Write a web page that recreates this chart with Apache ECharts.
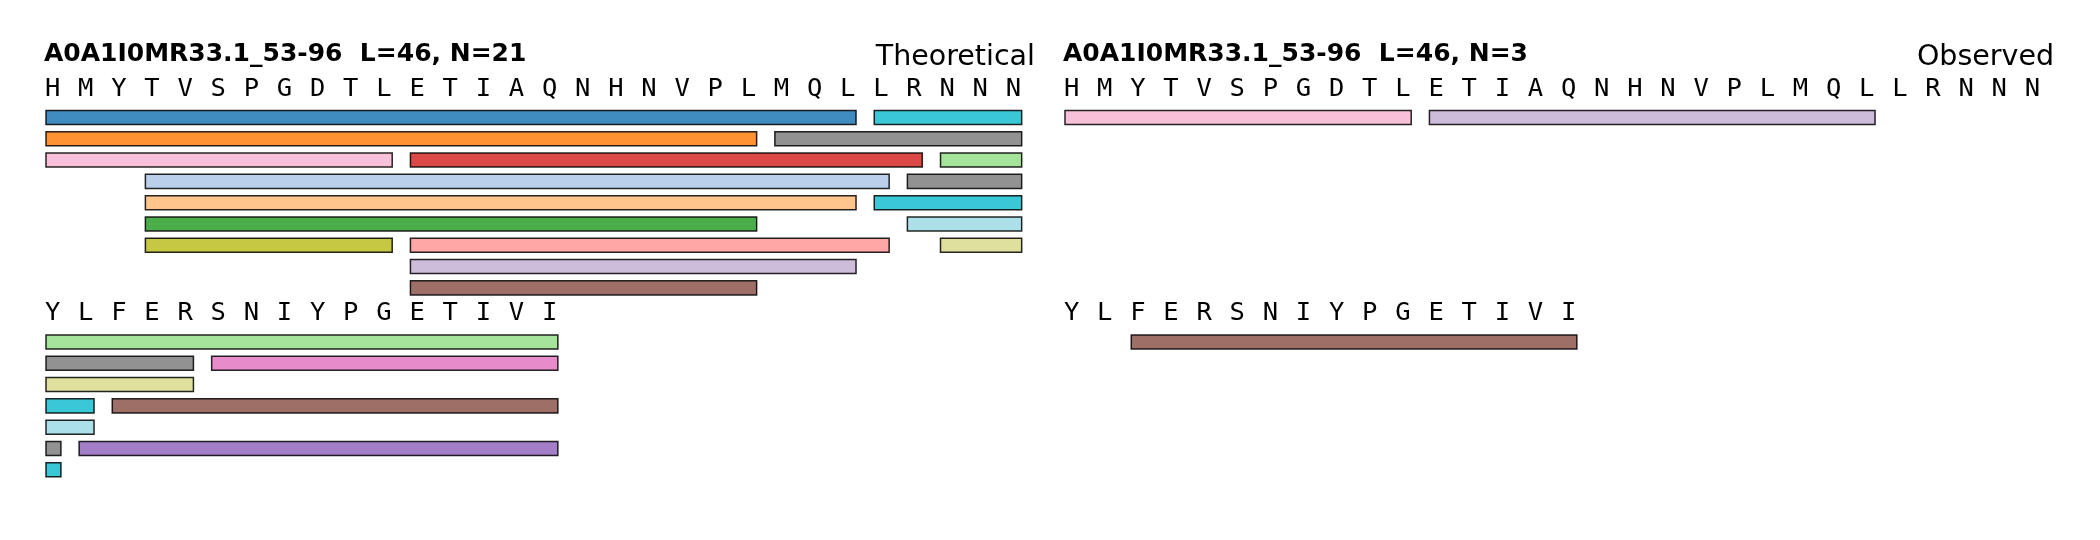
<!DOCTYPE html>
<html><head><meta charset="utf-8">
<script src="https://cdn.jsdelivr.net/npm/echarts@6/dist/echarts.min.js"></script>
<style>html,body{margin:0;padding:0;background:#fff}#c{width:2100px;height:540px}</style>
</head><body><div id="c"></div>
<script>
// ---------------- data ----------------
const proteinId = 'A0A1I0MR33.1_53-96';
const sequence = 'HMYTVSPGDTLETIAQNHNVPLMQLLRNNNYLFERSNIYPGETIVI';
const lineLength = 30;
const panelNames = ['Theoretical', 'Observed'];
// peptides: 1-based start/end on the full sequence, colour = palette index
const theoreticalStarts = [1, 1, 1, 4, 4, 4, 4, 12, 12, 12, 12, 23, 26, 26, 27, 27, 28, 28, 32, 33, 36];
const theoreticalEnds   = [25, 22, 11, 26, 25, 22, 11, 27, 26, 25, 22, 31, 32, 31, 35, 32, 46, 35, 46, 46, 46];
const theoreticalColors = [0, 2, 13, 1, 3, 4, 16, 6, 7, 9, 10, 14, 18, 18, 14, 19, 5, 17, 8, 10, 12];
const observedStarts = [1, 12, 33];
const observedEnds   = [11, 25, 46];
const observedColors = [13, 9, 10];
const palette = ['#1f77b4','#aec7e8','#ff7f0e','#ffbb78','#2ca02c','#98df8a','#d62728','#ff9896',
  '#9467bd','#c5b0d5','#8c564b','#c49c94','#e377c2','#f7b6d2','#7f7f7f','#c7c7c7','#bcbd22','#dbdb8d','#17becf','#9edae5'];

// ---------------- layout helpers ----------------
const L = sequence.length;
const nLines = Math.ceil(L / lineLength);
const FIRST_TRACK = 1.4;   // row units from letter row to first track
const LINE_EXTRA = 0.14;
const BAR_H = 0.66;
const BAR_END = 0.45;
const LETTER_DX = 0.2;
const LETTER_DY = 0.08;

function hexA(h, a) {
  const r = parseInt(h.slice(1,3),16), g = parseInt(h.slice(3,5),16), b = parseInt(h.slice(5,7),16);
  return 'rgba(' + r + ',' + g + ',' + b + ',' + a + ')';
}

// split peptides per line and pack into tracks (first fit)
function pack(starts, ends, colors) {
  const perLine = [];
  for (let li = 0; li < nLines; li++) {
    const lo = li * lineLength + 1, hi = Math.min(L, (li + 1) * lineLength);
    const segs = [];
    starts.forEach((s, i) => {
      const e = ends[i];
      if (e < lo || s > hi) return;
      segs.push({ ls: Math.max(s, lo), le: Math.min(e, hi), gs: s, ge: e, c: colors[i], lo: lo });
    });
    segs.sort((a, b) => a.ls - b.ls || b.le - a.le || a.gs - b.gs || b.ge - a.ge);
    const trackEnds = [];
    segs.forEach(sg => {
      let t = trackEnds.findIndex(te => te < sg.ls);
      if (t < 0) { t = trackEnds.length; trackEnds.push(0); }
      trackEnds[t] = sg.le;
      sg.track = t;
    });
    perLine.push({ segs: segs, nTracks: trackEnds.length });
  }
  return perLine;
}
const packs = [pack(theoreticalStarts, theoreticalEnds, theoreticalColors),
               pack(observedStarts, observedEnds, observedColors)];
// line vertical offsets in row units (shared, based on theoretical)
const lineY = [];
let yAcc = 0.5;
for (let li = 0; li < nLines; li++) {
  lineY.push(yAcc);
  yAcc += packs[0][li].nTracks + FIRST_TRACK + LINE_EXTRA;
}

const ROW_PX = 21.3, UNIT_PX = 33.13, GRID_TOP = 77;
const gridLefts = [46, 1065];
const yMax = 20;

const grids = [], xAxes = [], yAxes = [], series = [];
packs.forEach((pk, p) => {
  grids.push({ left: gridLefts[p], top: GRID_TOP, width: UNIT_PX * lineLength, height: ROW_PX * yMax });
  xAxes.push({ gridIndex: p, type: 'value', min: 0, max: lineLength, show: false });
  yAxes.push({ gridIndex: p, type: 'value', min: 0, max: yMax, inverse: true, show: false });
  // letters
  const letterData = [], letterChars = [];
  for (let i = 0; i < L; i++) {
    const li = Math.floor(i / lineLength);
    letterData.push([i % lineLength + LETTER_DX, lineY[li] + LETTER_DY]);
    letterChars.push(sequence[i]);
  }
  series.push({
    type: 'custom', xAxisIndex: p, yAxisIndex: p, silent: true, data: letterData,
    renderItem: function (params, api) {
      const pt = api.coord([api.value(0), api.value(1)]);
      return { type: 'text', x: pt[0], y: pt[1],
        style: { text: letterChars[params.dataIndex], font: '25.5px "DejaVu Sans Mono"', fill: '#000',
                 align: 'center', verticalAlign: 'middle' } };
    }
  });
  // bars
  const barData = [];
  pk.forEach((line, li) => {
    line.segs.forEach(sg => {
      barData.push([sg.ls - sg.lo, sg.le - sg.lo + BAR_END, lineY[li] + FIRST_TRACK + sg.track, sg.c]);
    });
  });
  series.push({
    type: 'custom', xAxisIndex: p, yAxisIndex: p, silent: true, data: barData,
    renderItem: function (params, api) {
      const a = api.coord([api.value(0), api.value(2)]);
      const b = api.coord([api.value(1), api.value(2)]);
      const h = api.size([0, BAR_H])[1];
      return { type: 'rect', shape: { x: a[0], y: a[1] - h / 2, width: b[0] - a[0], height: h },
        style: { fill: hexA(palette[api.value(3)], 0.85), stroke: 'rgba(0,0,0,0.85)', lineWidth: 1.5 } };
    }
  });
});

const nPep = [theoreticalStarts.length, observedStarts.length];
const graphic = [];
packs.forEach((pk, p) => {
  graphic.push({ type: 'text', x: gridLefts[p] - 2, y: 54,
    style: { text: proteinId + '  L=' + L + ', N=' + nPep[p], font: 'bold 25px "DejaVu Sans"', fill: '#000',
             align: 'left', verticalAlign: 'middle' } });
  graphic.push({ type: 'text', x: gridLefts[p] + 989, y: 58,
    style: { text: panelNames[p], font: '28.5px "DejaVu Sans"', fill: '#000', align: 'right', verticalAlign: 'middle' } });
});

const chart = echarts.init(document.getElementById('c'), null, { renderer: 'canvas' });
chart.setOption({ animation: false, backgroundColor: '#fff', grid: grids, xAxis: xAxes, yAxis: yAxes,
  series: series, graphic: graphic });
</script></body></html>
